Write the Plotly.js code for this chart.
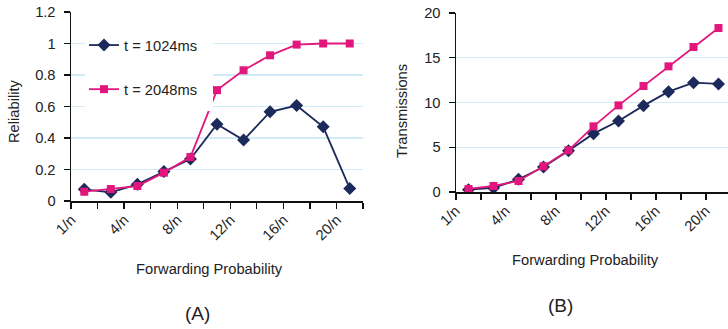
<!DOCTYPE html>
<html>
<head>
<meta charset="utf-8">
<script src="https://cdn.plot.ly/plotly-3.0.1.min.js"></script>
<style>
html,body{margin:0;padding:0;background:#fff;}
#chart{width:728px;height:329px;}
</style>
</head>
<body>
<div id="chart"></div>
<script>
// ---- data ----
const categories = ['1/n','2/n','4/n','6/n','8/n','10/n','12/n','14/n','16/n','18/n','20/n'];
const seriesNames = ['t = 1024ms', 't = 2048ms'];
const reliability1024 = [0.074, 0.055, 0.106, 0.188, 0.266, 0.488, 0.387, 0.566, 0.606, 0.471, 0.080];
const reliability2048 = [0.059, 0.076, 0.095, 0.180, 0.279, 0.704, 0.830, 0.925, 0.993, 1.000, 1.000];
const transmissions1024 = [0.26, 0.45, 1.42, 2.79, 4.62, 6.52, 7.93, 9.65, 11.21, 12.22, 12.07];
const transmissions2048 = [0.34, 0.67, 1.23, 2.87, 4.66, 7.34, 9.68, 11.84, 14.04, 16.20, 18.32];
const shownTickLabels = ['1/n','4/n','8/n','12/n','16/n','20/n'];

// ---- layout helpers ----
const W = 728, H = 329;
const px = x => x / W;
const py = y => 1 - y / H;
const FONT = '"Liberation Sans", Arial, Helvetica, sans-serif';
const TXT = '#222222';
const BLUE = '#1c2a5b';
const PINK = '#e2167c';
const GRID = '#d3ebf7';
const FS = 14.7;

const xIdx = categories.map((c, i) => i);
const tickIdx = shownTickLabels.map(l => categories.indexOf(l));
const boundaries = categories.map((c, i) => i - 0.5).concat([categories.length - 0.5]);

function mk(y, name, color, symbol, size, xa, ya, show) {
  return {
    x: xIdx, y: y, name: name, type: 'scatter', mode: 'lines+markers',
    xaxis: xa, yaxis: ya, showlegend: show, legendgroup: name,
    line: {color: color, width: 1.8},
    marker: {symbol: symbol, size: size, color: color}
  };
}

const data = [
  mk(reliability1024, seriesNames[0], BLUE, 'diamond', 10, 'x', 'y', true),
  mk(reliability2048, seriesNames[1], PINK, 'square', 8, 'x', 'y', true),
  mk(transmissions1024, seriesNames[0], BLUE, 'diamond', 10, 'x2', 'y2', false),
  mk(transmissions2048, seriesNames[1], PINK, 'square', 8, 'x2', 'y2', false)
];

function xaxisDef(domain, range, anchor) {
  return {
    domain: domain, range: range, anchor: anchor, type: 'linear',
    tickmode: 'array', tickvals: tickIdx, ticktext: shownTickLabels,
    ticks: '', tickangle: -45, showgrid: false, zeroline: false,
    ticklabelshift: -13, ticklabelstandoff: 3,
    showline: true, linecolor: '#111', linewidth: 1.5,
    tickfont: {family: FONT, size: FS, color: TXT},
    minor: {tickmode: 'array', tickvals: boundaries, ticks: 'outside', ticklen: 6,
            tickwidth: 1.3, tickcolor: '#111', showgrid: false},
    fixedrange: true
  };
}
function yaxisDef(domain, range, dtick, anchor) {
  return {
    domain: domain, range: range, dtick: dtick, anchor: anchor,
    ticks: 'outside', ticklen: 6, tickwidth: 1.3, tickcolor: '#111',
    showgrid: true, gridcolor: GRID, gridwidth: 1.3, zeroline: false,
    showline: true, linecolor: '#111', linewidth: 1.5,
    tickfont: {family: FONT, size: FS, color: TXT},
    ticklabelstandoff: 5,
    fixedrange: true
  };
}

const layout = {
  width: W, height: H,
  margin: {l: 0, r: 0, t: 0, b: 0},
  paper_bgcolor: '#ffffff', plot_bgcolor: '#ffffff',
  font: {family: FONT, size: FS, color: TXT},
  xaxis: xaxisDef([px(71), px(363)], [-0.5, 10.5], 'y'),
  yaxis: yaxisDef([py(201), py(12)], [0, 1.2], 0.2, 'x'),
  xaxis2: xaxisDef([px(456), 1], [-0.5, 10.5 - 3 / 25], 'y2'),
  yaxis2: yaxisDef([py(192), py(13)], [0, 20], 5, 'x2'),
  showlegend: true,
  legend: {
    x: px(84), y: py(29), xanchor: 'left', yanchor: 'top',
    bgcolor: 'rgba(0,0,0,0)', borderwidth: 0,
    traceorder: 'grouped', tracegroupgap: 22,
    font: {family: FONT, size: FS, color: TXT}
  },
  shapes: [{
    type: 'rect', xref: 'paper', yref: 'paper', layer: 'above',
    x0: px(85), x1: px(213), y0: py(111), y1: py(25),
    fillcolor: '#ffffff', line: {width: 0}
  }],
  annotations: [
    {text: 'Reliability', x: px(14), y: py(111), textangle: -90},
    {text: 'Transmissions', x: px(402), y: py(111), textangle: -90},
    {text: 'Forwarding Probability', x: px(210), y: py(269)},
    {text: 'Forwarding Probability', x: px(585), y: py(260)},
    {text: '(A)', x: px(197), y: py(313), font: {family: FONT, size: 19, color: TXT}},
    {text: '(B)', x: px(560), y: py(305), font: {family: FONT, size: 19, color: TXT}}
  ].map(a => Object.assign({xref: 'paper', yref: 'paper', showarrow: false,
                             xanchor: 'center', yanchor: 'middle',
                             font: {family: FONT, size: FS, color: TXT}}, a))
};

Plotly.newPlot('chart', data, layout, {staticPlot: true, displayModeBar: false});
</script>
</body>
</html>
